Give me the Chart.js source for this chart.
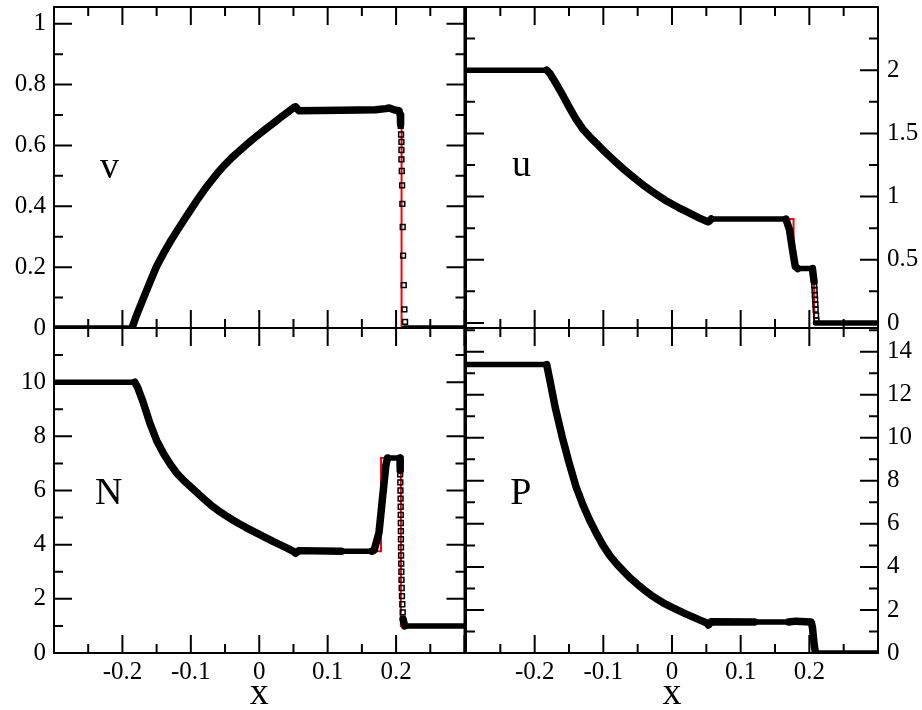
<!DOCTYPE html>
<html>
<head>
<meta charset="utf-8">
<script src="https://cdn.jsdelivr.net/npm/chart.js@4.4.1/dist/chart.umd.min.js"></script>
<style>
  html, body { margin: 0; padding: 0; background: #fff; }
  #wrap { position: relative; width: 922px; height: 710px; overflow: hidden; }
  canvas { position: absolute; }
</style>
</head>
<body>
<div id="wrap">
  <canvas id="pv" width="470" height="335" style="left:0;top:0"></canvas>
  <canvas id="pu" width="462" height="335" style="left:460px;top:0"></canvas>
  <canvas id="pn" width="470" height="390" style="left:0;top:320px"></canvas>
  <canvas id="pp" width="462" height="390" style="left:460px;top:320px"></canvas>
</div>
<script>
// axis ticks
const xMajor = [-0.3, -0.2, -0.1, 0, 0.1, 0.2, 0.3];
const xMinor = [-0.25, -0.15, -0.05, 0.05, 0.15, 0.25];
const xLabels = [-0.2, -0.1, 0, 0.1, 0.2];

const vMajor = [0, 0.2, 0.4, 0.6, 0.8, 1];
const vMinor = [0.1, 0.3, 0.5, 0.7, 0.9];
const uMajor = [0, 0.5, 1, 1.5, 2, 2.5];
const uMinor = [0.25, 0.75, 1.25, 1.75, 2.25];
const uLabels = [0, 0.5, 1, 1.5, 2];
const nMajor = [0, 2, 4, 6, 8, 10, 12];
const nMinor = [1, 3, 5, 7, 9, 11];
const nLabels = [0, 2, 4, 6, 8, 10];
const pMajor = [0, 2, 4, 6, 8, 10, 12, 14];
const pMinor = [1, 3, 5, 7, 9, 11, 13, 15];

// rarefaction fan at the same x positions
const xFan = [-0.17, -0.16, -0.15, -0.14, -0.13, -0.12, -0.11, -0.1, -0.09, -0.08, -0.07,
              -0.06, -0.05, -0.04, -0.03, -0.02, -0.01, 0, 0.01, 0.02, 0.03, 0.04];
const vFan = [0.094, 0.149, 0.203, 0.245, 0.284, 0.32, 0.355, 0.389, 0.423, 0.455, 0.484,
              0.512, 0.537, 0.56, 0.58, 0.6, 0.619, 0.637, 0.655, 0.672, 0.69, 0.707];
const uFan = [1.905, 1.81, 1.71, 1.615, 1.535, 1.475, 1.42, 1.366, 1.314, 1.264, 1.215,
              1.17, 1.126, 1.083, 1.044, 1.007, 0.971, 0.941, 0.911, 0.884, 0.857, 0.83];
const nFan = [9.28, 8.5, 7.85, 7.37, 6.97, 6.62, 6.36, 6.13, 5.9, 5.67, 5.45,
              5.26, 5.09, 4.93, 4.78, 4.64, 4.51, 4.38, 4.25, 4.12, 4.0, 3.88];
const pFan = [11.4, 10.05, 8.85, 7.75, 6.9, 6.18, 5.55, 4.98, 4.5, 4.12, 3.78,
              3.46, 3.18, 2.92, 2.68, 2.47, 2.28, 2.12, 1.97, 1.82, 1.68, 1.54];

// v : numerical run (black), sparse shock points (squares), exact (red)
const vHeadX = [-0.3, -0.186, -0.18];
const vHead  = [0, 0, 0.038];
const vRestX = [0.05, 0.053, 0.058, 0.12, 0.17, 0.185, 0.19, 0.197, 0.204, 0.2062, 0.2066];
const vRest  = [0.724, 0.727, 0.714, 0.716, 0.717, 0.721, 0.723, 0.717, 0.714, 0.70, 0.67];
const vTailX = [0.2125, 0.3];
const vTail  = [0, 0];
const vSqX = [0.2068, 0.2073, 0.2078, 0.2078, 0.2078, 0.2083, 0.2088, 0.2092, 0.2097, 0.2102, 0.2112, 0.2121, 0.2131];
const vSq  = [0.664, 0.636, 0.612, 0.585, 0.554, 0.516, 0.469, 0.408, 0.332, 0.238, 0.141, 0.061, 0.020];
const vExTailX = [0.05, 0.208, 0.208, 0.3];
const vExTail  = [0.722, 0.717, 0, 0];

// u
const uHeadX = [-0.3, -0.1825, -0.178];
const uHead  = [2, 2, 1.975];
const uRestX = [0.05, 0.053, 0.057, 0.12, 0.166, 0.171, 0.1755, 0.1795, 0.183, 0.2045, 0.2068];
const uRest  = [0.805, 0.80, 0.822, 0.822, 0.822, 0.739, 0.58, 0.448, 0.43, 0.43, 0.33];
const uTailX = [0.209, 0.3];
const uTail  = [0, 0];
const uSqX = [0.2072, 0.2076, 0.208, 0.2084, 0.2088, 0.2092, 0.2098, 0.2104];
const uSq  = [0.30, 0.26, 0.22, 0.185, 0.145, 0.105, 0.06, 0.02];
const uExTailX = [0.05, 0.177, 0.177, 0.207, 0.207, 0.3];
const uExTail  = [0.822, 0.822, 0.43, 0.43, 0, 0];

// N
const nHeadX = [-0.3, -0.182, -0.178];
const nHead  = [10, 10, 9.82];
const nRestX = [0.05, 0.053, 0.058, 0.12, 0.165, 0.168, 0.175, 0.18, 0.185, 0.1875, 0.2058, 0.206];
const nRest  = [3.75, 3.68, 3.78, 3.76, 3.76, 3.8, 4.44, 5.68, 6.92, 7.2, 7.2, 6.75];
const nTailX = [0.2102, 0.2125, 0.3];
const nTail  = [1.25, 1, 1];
const nSqX = [0.206, 0.2062, 0.2064, 0.2066, 0.2067, 0.2068, 0.2069, 0.207, 0.2071, 0.2072, 0.2073, 0.2075, 0.2077, 0.2079, 0.2082, 0.2086, 0.2091, 0.2097];
const nSq  = [6.6, 6.3, 6.0, 5.7, 5.4, 5.1, 4.8, 4.5, 4.2, 3.9, 3.6, 3.3, 3.0, 2.7, 2.4, 2.1, 1.8, 1.5];
const nExTailX = [0.05, 0.178, 0.178, 0.207, 0.207, 0.3];
const nExTail  = [3.76, 3.76, 7.2, 7.2, 1, 1];

// P
const pHeadX = [-0.3, -0.1825, -0.178];
const pHead  = [13.4, 13.4, 12.7];
const pRestX = [0.05, 0.053, 0.057, 0.12, 0.17, 0.18, 0.2025, 0.2045, 0.207, 0.209, 0.3];
const pRest  = [1.41, 1.3, 1.45, 1.44, 1.44, 1.48, 1.44, 1.2, 0.4, 0, 0];
const pExTailX = [0.05, 0.207, 0.207, 0.3];
const pExTail  = [1.44, 1.44, 0, 0];

Chart.defaults.font.family = '"Liberation Serif", "Times New Roman", serif';
Chart.defaults.color = '#000';

const pts = (xs, ys) => xs.map((x, i) => ({ x: x, y: ys[i] }));

function makeFrame(cfg) {
    return {
        id: 'frame',
        afterDatasetsDraw(chart) {
            const { ctx, chartArea: a, scales: { x, y } } = chart;
            ctx.save();
            ctx.strokeStyle = '#000';
            ctx.lineWidth = 2;
            ctx.strokeRect(a.left, a.top, a.right - a.left, a.bottom - a.top);
            ctx.beginPath();
            const xt = (vals, len) => vals.forEach(v => {
                const px = x.getPixelForValue(v);
                ctx.moveTo(px, a.bottom); ctx.lineTo(px, a.bottom - len);
                ctx.moveTo(px, a.top); ctx.lineTo(px, a.top + len);
            });
            const yt = (vals, len) => vals.forEach(v => {
                const py = y.getPixelForValue(v);
                ctx.moveTo(a.left, py); ctx.lineTo(a.left + len, py);
                ctx.moveTo(a.right, py); ctx.lineTo(a.right - len, py);
            });
            xt(xMajor, 18); xt(xMinor, 9);
            yt(cfg.yMajor, 18); yt(cfg.yMinor, 9);
            ctx.stroke();
            ctx.fillStyle = '#000';
            ctx.font = '38px "Liberation Serif", serif';
            ctx.textAlign = 'center';
            ctx.textBaseline = 'alphabetic';
            ctx.fillText(cfg.name, x.getPixelForValue(cfg.nameAt[0]), y.getPixelForValue(cfg.nameAt[1]));
            ctx.restore();
        }
    };
}

function panel(id, cfg) {
    const numX = cfg.headX.concat(xFan, cfg.restX);
    const numY = cfg.head.concat(cfg.fan, cfg.rest);
    const exX = cfg.headX.slice(0, 2).concat(xFan, cfg.exTailX);
    const exY = cfg.head.slice(0, 2).concat(cfg.fan, cfg.exTail);

    // flat stretches are drawn a little thinner than the sloped ones, like the original
    const line = (xs, ys) => ({
        data: pts(xs, ys), showLine: true, borderColor: '#000', pointRadius: 0,
        borderCapStyle: 'round', borderJoinStyle: 'round', order: 1,
        segment: { borderWidth: c => Math.abs(c.p0.parsed.y - c.p1.parsed.y) < 1e-9 ? 5.5 : 7.5 }
    });
    const datasets = [
        { data: pts(exX, exY), showLine: true, borderColor: '#ff0000', borderWidth: 2, pointRadius: 0, order: 2 },
        line(numX, numY)
    ];
    if (cfg.tailX) datasets.push(line(cfg.tailX, cfg.tail));
    if (cfg.sqX) datasets.push({
        data: pts(cfg.sqX, cfg.sq), showLine: false, pointStyle: 'rect', pointRadius: 3.4,
        borderColor: '#000', borderWidth: 1.5, backgroundColor: 'rgba(0,0,0,0)', order: 0
    });

    new Chart(document.getElementById(id), {
        type: 'scatter',
        data: { datasets },
        options: {
            responsive: false,
            animation: false,
            devicePixelRatio: 1,
            layout: { padding: cfg.pad },
            plugins: { legend: { display: false }, tooltip: { enabled: false } },
            scales: {
                x: {
                    type: 'linear', min: -0.3, max: 0.3, position: 'bottom',
                    display: cfg.bottom,
                    grid: { display: false, drawTicks: false },
                    border: { display: false },
                    afterBuildTicks: s => { s.ticks = xLabels.map(v => ({ value: v })); },
                    ticks: { padding: 4, autoSkip: false, maxRotation: 0, font: { size: 25 }, callback: v => String(v) },
                    title: { display: true, text: 'x', padding: 0, font: { size: 38, lineHeight: 0.84 } },
                    afterFit: s => {
                        s.height = cfg.bottom ? 57 : 0;
                        s.paddingLeft = 0; s.paddingRight = 0;
                    }
                },
                y: {
                    type: 'linear', min: cfg.yMin, max: cfg.yMax, position: cfg.side,
                    grid: { display: false, drawTicks: false },
                    border: { display: false },
                    afterBuildTicks: s => { s.ticks = cfg.yLabels.map(v => ({ value: v })); },
                    ticks: { padding: cfg.side === 'left' ? 8 : 9, autoSkip: false, font: { size: 25 }, callback: v => String(v) },
                    afterFit: s => {
                        s.width = cfg.yWidth;
                        s.paddingTop = 0; s.paddingBottom = 0;
                    }
                }
            }
        },
        plugins: [makeFrame(cfg)]
    });
}

panel('pv', {
    headX: vHeadX, head: vHead, fan: vFan, restX: vRestX, rest: vRest,
    tailX: vTailX, tail: vTail, sqX: vSqX, sq: vSq, exTailX: vExTailX, exTail: vExTail,
    yMin: 0, yMax: 1.055, yMajor: vMajor, yMinor: vMinor, yLabels: vMajor,
    side: 'left', yWidth: 54, bottom: false, pad: { left: 0, top: 7, right: 4, bottom: 7 },
    name: 'v', nameAt: [-0.219, 0.492]
});
panel('pu', {
    headX: uHeadX, head: uHead, fan: uFan, restX: uRestX, rest: uRest,
    tailX: uTailX, tail: uTail, sqX: uSqX, sq: uSq, exTailX: uExTailX, exTail: uExTail,
    yMin: -0.04, yMax: 2.5, yMajor: uMajor, yMinor: uMinor, yLabels: uLabels,
    side: 'right', yWidth: 44, bottom: false, pad: { left: 6, top: 7, right: 0, bottom: 7 },
    name: 'u', nameAt: [-0.219, 1.16]
});
panel('pn', {
    headX: nHeadX, head: nHead, fan: nFan, restX: nRestX, rest: nRest,
    tailX: nTailX, tail: nTail, sqX: nSqX, sq: nSq, exTailX: nExTailX, exTail: nExTail,
    yMin: 0, yMax: 12, yMajor: nMajor, yMinor: nMinor, yLabels: nLabels,
    side: 'left', yWidth: 54, bottom: true, pad: { left: 0, top: 8, right: 4, bottom: 0 },
    name: 'N', nameAt: [-0.22, 5.52]
});
panel('pp', {
    headX: pHeadX, head: pHead, fan: pFan, restX: pRestX, rest: pRest,
    exTailX: pExTailX, exTail: pExTail,
    yMin: 0, yMax: 15.1, yMajor: pMajor, yMinor: pMinor, yLabels: pMajor,
    side: 'right', yWidth: 44, bottom: true, pad: { left: 6, top: 8, right: 0, bottom: 0 },
    name: 'P', nameAt: [-0.22, 6.92]
});
</script>
</body>
</html>
